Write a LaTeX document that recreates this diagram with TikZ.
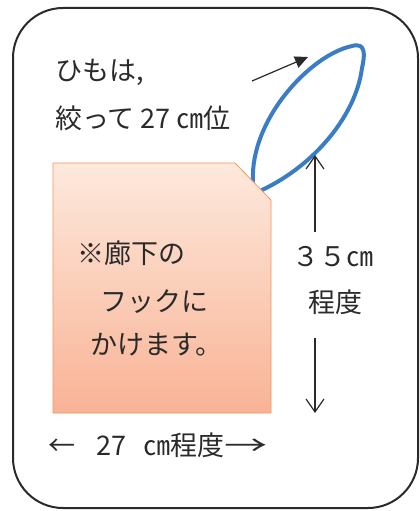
\documentclass[tikz,border=0pt]{standalone}
\usepackage{fontspec}
\setmainfont{Noto Sans CJK JP}
\usetikzlibrary{arrows.meta, positioning, calc}
\definecolor{cordblue}{HTML}{3A7DC6}
\definecolor{tagtop}{HTML}{FDE9DC}
\definecolor{tagbot}{HTML}{F9B396}
\definecolor{tagedge}{HTML}{F2935F}
\definecolor{ink}{HTML}{2A2A2A}

\begin{document}
\begin{tikzpicture}[x=1pt, y=-1pt,
    txt/.style={font=\fontsize{27}{32}\selectfont, text=ink, inner sep=0pt},
    dim/.style={ink, line width=1.2pt, -{Straight Barb[length=13pt, width=18pt]}}]
    \useasboundingbox (0,0) rectangle (420,511);
    % frame
    \draw[ink, line width=2pt, rounded corners=50pt] (13,8) rectangle (418,508);
    % cord loop, then the tag over its ends
    \draw[cordblue, line width=4pt, line cap=round]
        (253,181) .. controls (250,120) and (310,55) .. (352,46)
        .. controls (366,42) and (365,55) .. (362,68)
        .. controls (356,115) and (315,165) .. (262,190);
    \shadedraw[top color=tagtop, bottom color=tagbot, draw=tagedge, line width=0.8pt]
        (53,163) -- (235,163) -- (271,200) -- (271,413) -- (53,413) -- cycle;
    \node[txt, anchor=west] (cord1) at (55,72) {ひもは,};
    \node[txt, anchor=west] (cord2) at (55,118) {絞って 27 ㎝位};
    \coordinate (pfrom) at (252,81);
    \coordinate (pto) at (308,57);
    \draw[ink, line width=1.2pt, -{Triangle[length=13pt, width=12pt]}] (pfrom) -- (pto);
    \node[txt, anchor=west] (note1) at (77,253) {※廊下の};
    \node[txt, anchor=west] (note2) at (100,302) {フックに};
    \node[txt, anchor=west] (note3) at (90,345) {かけます。};
    % height
    \node[txt] (len35) at (333,257) {３５㎝};
    \node[txt] (lenabout) at (335,302) {程度};
    \coordinate (looplow) at (315,155);
    \coordinate (uptail) at (315,232);
    \coordinate (downtail) at (315,338);
    \coordinate (floor) at (315,413);
    \draw[dim] (uptail) -- (looplow);
    \draw[dim] (downtail) -- (floor);
    % width
    \node[txt, anchor=west] (wide27) at (48,445)
        {←\hspace{21pt}27\hspace{17pt}㎝程度\scalebox{1.6}[1]{→}};
\end{tikzpicture}
\end{document}
